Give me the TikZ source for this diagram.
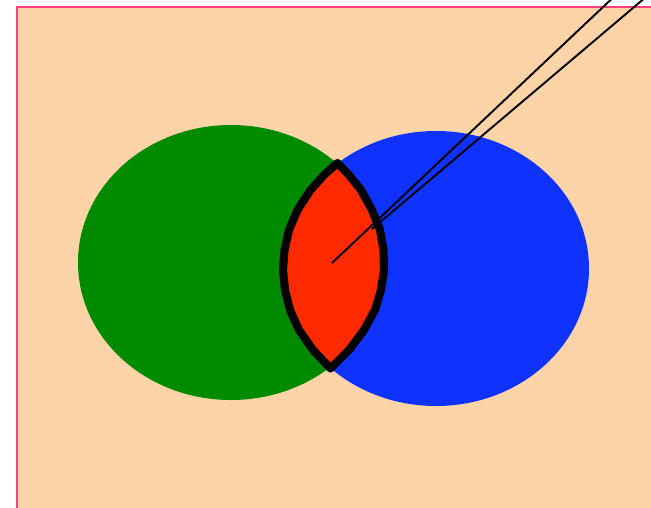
\documentclass[tikz,border=0pt]{standalone}
\usepackage{tikz}
\definecolor{peachcolor}{RGB}{253,212,168}
\definecolor{pinkcolor}{RGB}{255,64,128}
\definecolor{leftcolor}{RGB}{0,138,0}
\definecolor{rightcolor}{RGB}{15,50,255}
\definecolor{lenscolor}{RGB}{255,42,0}

\begin{document}
\begin{tikzpicture}[
    x=0.02cm, y=-0.02cm,
    backdrop/.style={fill=peachcolor, draw=pinkcolor, line width=1.2pt},
    blob/.style={draw=none},
    lens/.style={fill=lenscolor, draw=black, line width=4.6pt, line join=round},
    pointer/.style={draw=black, line width=1.1pt}
  ]
  \clip (0,0) rectangle (651,507);

  % Background
  \draw[backdrop] (17,7) rectangle (680,540);

  % Circles
  \fill[blob, leftcolor]  (231,262.5) ellipse [x radius=153, y radius=137.5];
  \fill[blob, rightcolor] (436,268.5) ellipse [x radius=153, y radius=137.5];

  % Overlap
  \draw[lens] (337.5,163) -- (349,175) -- (361,190) -- (372,210) -- (380,230)
    -- (383.5,250) -- (384,270) -- (381,290) -- (375,310) -- (364,330)
    -- (349,350) -- (330.5,368.5)
    -- (313,350) -- (299,330) -- (290,310) -- (285,290) -- (283,270)
    -- (284.5,250) -- (289,230) -- (297.5,210) -- (310.5,190) -- (324,175) -- cycle;

  % Pointers
  \coordinate (centre) at (332,263);
  \coordinate (rim)    at (372,229);
  \coordinate (farA)   at (620,-9);
  \coordinate (farB)   at (653,-9);
  \draw[pointer] (centre) -- (farA);
  \draw[pointer] (rim) -- (farB);
\end{tikzpicture}
\end{document}
